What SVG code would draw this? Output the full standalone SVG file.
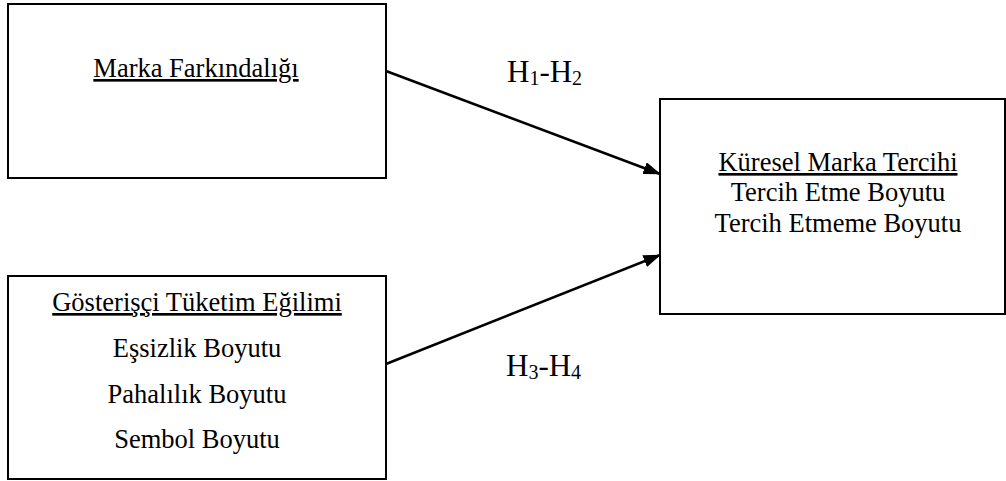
<svg xmlns="http://www.w3.org/2000/svg" width="1006" height="481" viewBox="0 0 1006 481">
<style>
.box{fill:#fff;stroke:#000;stroke-width:2}
.t{font-family:"Liberation Serif","Times New Roman",serif;font-size:26.5px;fill:#000;text-anchor:middle}
.u{text-decoration:underline}
.h{font-family:"Liberation Serif","Times New Roman",serif;font-size:31px;fill:#000}
.s{font-size:20px}
.edge{stroke:#000;stroke-width:2.5;fill:none;marker-end:url(#ah)}
</style>
<defs>
<marker id="ah" markerWidth="7" markerHeight="5" refX="6.6" refY="2.5" orient="auto" markerUnits="strokeWidth">
<path d="M0,0 L7,2.5 L0,5 Z" fill="#000"/>
</marker>
</defs>
<rect width="1006" height="481" fill="#fff"/>
<g id="connectors">
<line class="edge" x1="386" y1="71" x2="660" y2="174"/>
<line class="edge" x1="386" y1="364" x2="660" y2="255"/>
</g>
<g id="label-h1h2"><text class="h" x="507" y="82">H<tspan class="s" dy="2.5">1</tspan><tspan dy="-2.5">-H</tspan><tspan class="s" dy="2.5">2</tspan></text></g>
<g id="label-h3h4"><text class="h" x="506" y="376">H<tspan class="s" dy="2.5">3</tspan><tspan dy="-2.5">-H</tspan><tspan class="s" dy="2.5">4</tspan></text></g>
<g id="marka-farkindaligi">
<rect class="box" x="8" y="4" width="378" height="174"/>
<text class="t u" x="196" y="77">Marka Farkındalığı</text>
</g>
<g id="gosterisci-tuketim">
<rect class="box" x="8" y="276" width="378" height="203"/>
<text class="t u" x="197" y="311">Gösterişçi Tüketim Eğilimi</text>
<text class="t" x="197" y="357">Eşsizlik Boyutu</text>
<text class="t" x="197" y="403">Pahalılık Boyutu</text>
<text class="t" x="197" y="448">Sembol Boyutu</text>
</g>
<g id="kuresel-marka-tercihi">
<rect class="box" x="660" y="99" width="345" height="215"/>
<text class="t u" x="838" y="171">Küresel Marka Tercihi</text>
<text class="t" x="838" y="201">Tercih Etme Boyutu</text>
<text class="t" x="838" y="232">Tercih Etmeme Boyutu</text>
</g>
</svg>
